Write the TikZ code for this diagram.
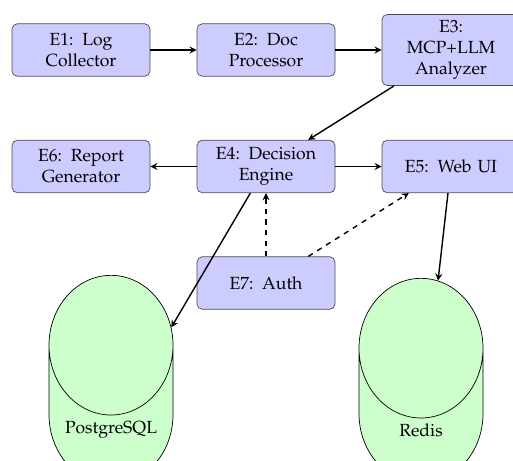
\documentclass[tikz,border=0pt]{standalone}
\usepackage[T1]{fontenc}
\usepackage{mathpazo}
\usetikzlibrary{shapes.geometric}

\begin{document}
\begin{tikzpicture}[>=stealth,
    entity/.style={rectangle, rounded corners=3pt, draw=black!70, fill=blue!20,
        text width=2.3cm, align=center, minimum width=2.76cm, minimum height=1.05cm},
    store/.style={cylinder, shape border rotate=90, aspect=1.25, draw, fill=green!20,
        text width=2cm, align=center, minimum width=2.48cm, minimum height=3.92cm},
    flow/.style={->, thick},
    authflow/.style={->, thick, dashed}]
            \useasboundingbox (0,0) rectangle (10.26,-9.22);

            \node[entity] (e1) at (1.62,-1.0) {E1: Log Collector};
            \node[entity] (e2) at (5.32,-1.0) {E2: Doc Processor};
            \node[entity] (e3) at (9.02,-1.0) {E3: MCP+LLM Analyzer};
            \node[entity] (e6) at (1.62,-3.33) {E6: Report Generator};
            \node[entity] (e4) at (5.32,-3.33) {E4: Decision Engine};
            \node[entity] (e5) at (9.02,-3.33) {E5: Web UI};
            \node[entity] (e7) at (5.32,-5.66) {E7: Auth};

            % databases
            \node[store, anchor=top] (pg) at (2.22,-5.50) {PostgreSQL};
            \node[store, anchor=top] (redis) at (8.42,-5.56) {Redis};

            \draw[flow] (e1) -- (e2);
            \draw[flow] (e2) -- (e3);
            \draw[flow] (e3) -- (e4);
            \draw[flow] (e4) -- (e6);
            \draw[flow] (e4) -- (e5);
            \draw[flow] (e4) -- (pg);
            \draw[flow] (e5) -- (redis);
            \draw[authflow] (e7) -- (e4);
            \draw[authflow] (e7) -- (e5);
        \end{tikzpicture}
\end{document}
